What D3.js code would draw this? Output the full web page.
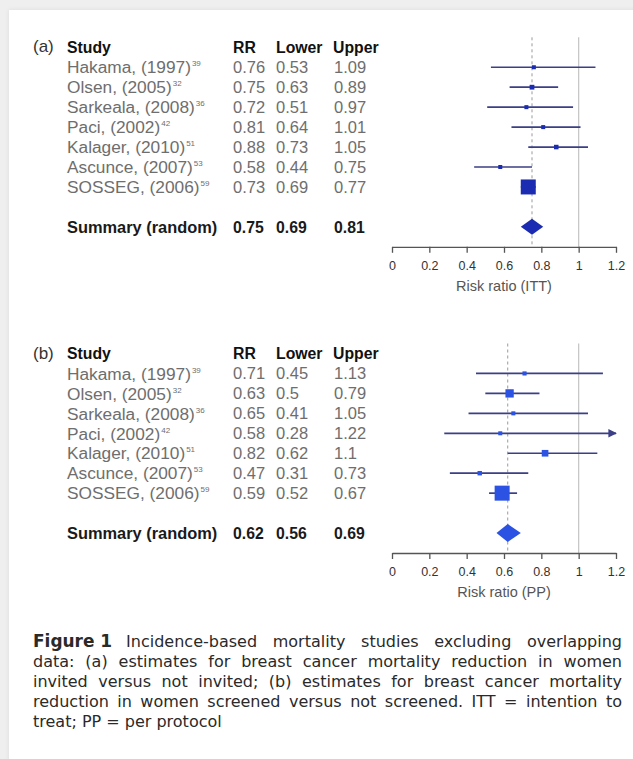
<!DOCTYPE html>
<html>
<head>
<meta charset="utf-8">
<script src="https://cdn.jsdelivr.net/npm/d3@7"></script>
<style>
  html, body { margin: 0; padding: 0; background: #efefef; }
  svg { display: block; }
</style>
</head>
<body>
<svg id="chart" width="633" height="759"></svg>
<script>
// study labels, shared by both panels
const studies = ["Hakama, (1997)", "Olsen, (2005)", "Sarkeala, (2008)", "Paci, (2002)",
                 "Kalager, (2010)", "Ascunce, (2007)", "SOSSEG, (2006)"];
const refs = ["39", "32", "36", "42", "51", "53", "59"];

// (a) intention to treat
const rrA    = [0.76, 0.75, 0.72, 0.81, 0.88, 0.58, 0.73];
const lowerA = [0.53, 0.63, 0.51, 0.64, 0.73, 0.44, 0.69];
const upperA = [1.09, 0.89, 0.97, 1.01, 1.05, 0.75, 0.77];
const summaryA = [0.75, 0.69, 0.81];

// (b) per protocol
const rrB    = [0.71, 0.63, 0.65, 0.58, 0.82, 0.47, 0.59];
const lowerB = [0.45, 0.5, 0.41, 0.28, 0.62, 0.31, 0.52];
const upperB = [1.13, 0.79, 1.05, 1.22, 1.1, 0.73, 0.67];
const summaryB = [0.62, 0.56, 0.69];

const tickValues = [0, 0.2, 0.4, 0.6, 0.8, 1, 1.2];
const tickLabels = ["0", "0.2", "0.4", "0.6", "0.8", "1", "1.2"];

const captionLines = [
  "Incidence-based mortality studies excluding overlapping",
  "data: (a) estimates for breast cancer mortality reduction in women",
  "invited versus not invited; (b) estimates for breast cancer mortality",
  "reduction in women screened versus not screened. ITT = intention to",
  "treat; PP = per protocol"
];

const svg = d3.select("#chart");
const sans = "'Liberation Sans', Arial, sans-serif";

// white page card
svg.append("rect").attr("x", 9).attr("y", 10).attr("width", 640).attr("height", 760)
   .attr("fill", "#fff").style("filter", "drop-shadow(0 0 2px rgba(0,0,0,0.08))");

const x = d3.scaleLinear().domain([0, 1.2]).range([392, 616]);

svg.append("defs").append("marker")
   .attr("id", "arrow").attr("viewBox", "0 0 10 10").attr("refX", 9).attr("refY", 5)
   .attr("markerWidth", 5).attr("markerHeight", 5).attr("orient", "auto")
   .append("path").attr("d", "M0,0L10,5L0,10z").attr("fill", "#3b3f86");

function drawPanel(opt) {
  const g = svg.append("g");
  const y = d3.scaleLinear().domain([-1, 8]).range([opt.top, opt.top + 9 * 19.95]);
  const axisY = y(9);

  const rows = studies.map((s, i) => ({
    name: s, ref: refs[i], rr: opt.rr[i], lo: opt.lower[i], hi: opt.upper[i], i: i
  }));
  // box size from precision (1 / width of log CI)
  rows.forEach(d => d.prec = 1 / (Math.log(d.hi) - Math.log(d.lo)));
  const box = d3.scaleLinear().domain([0, d3.max(rows, d => d.prec)]).range([0, 15]);
  const side = d => Math.max(box(d.prec), 4);

  // table header
  g.append("text").attr("x", 33).attr("y", y(-1)).attr("dy", "0.3em")
   .attr("font-size", 17).attr("fill", "#333").attr("font-family", sans).text(opt.label);
  const head = [["Study", 67], ["RR", 233], ["Lower", 276], ["Upper", 333]];
  g.selectAll(".head").data(head).enter().append("text")
   .attr("x", d => d[1]).attr("y", y(-1)).attr("dy", "0.36em")
   .attr("font-size", 15.8).attr("font-weight", "bold").attr("fill", "#111")
   .attr("font-family", sans).text(d => d[0]);

  // study rows
  const rowText = g.selectAll(".row").data(rows).enter().append("g")
   .attr("font-family", sans).attr("font-size", 16.5).attr("fill", "#6e6e6e");
  const nm = rowText.append("text").attr("x", 67).attr("y", d => y(d.i)).attr("dy", "0.36em")
   .attr("font-size", 17.3);
  nm.append("tspan").text(d => d.name);
  nm.append("tspan").attr("font-size", 8).attr("dy", -7).attr("dx", 1).text(d => d.ref);
  rowText.append("text").attr("x", 233).attr("y", d => y(d.i)).attr("dy", "0.36em").text(d => String(d.rr));
  rowText.append("text").attr("x", 276).attr("y", d => y(d.i)).attr("dy", "0.36em").text(d => String(d.lo));
  rowText.append("text").attr("x", 334).attr("y", d => y(d.i)).attr("dy", "0.36em").text(d => String(d.hi));

  // summary row
  const sumVals = [["Summary (random)", 67], [String(opt.summary[0]), 233],
                   [String(opt.summary[1]), 276], [String(opt.summary[2]), 334]];
  g.selectAll(".sum").data(sumVals).enter().append("text")
   .attr("x", d => d[1]).attr("y", y(8)).attr("dy", "0.36em")
   .attr("font-size", d => d[1] === 67 ? 16.4 : 15.8).attr("font-weight", "bold").attr("fill", "#1a1a1a")
   .attr("font-family", sans).text(d => d[0]);

  // reference lines
  g.append("line").attr("x1", x(1)).attr("x2", x(1)).attr("y1", y(-1.5)).attr("y2", axisY)
   .attr("stroke", "#c4c4c4").attr("stroke-width", 1.2);
  g.append("line").attr("x1", x(opt.summary[0])).attr("x2", x(opt.summary[0]))
   .attr("y1", y(-1.5)).attr("y2", axisY)
   .attr("stroke", "#9a9a9a").attr("stroke-width", 1).attr("stroke-dasharray", "3,3");

  // confidence intervals
  g.selectAll(".ci").data(rows).enter().append("line")
   .attr("x1", d => x(d.lo)).attr("x2", d => x(Math.min(d.hi, 1.2)))
   .attr("y1", d => y(d.i)).attr("y2", d => y(d.i))
   .attr("stroke", "#3b3f86").attr("stroke-width", 1.7)
   .attr("marker-end", d => d.hi > 1.2 ? "url(#arrow)" : null);

  // point estimate boxes
  g.selectAll(".box").data(rows).enter().append("rect")
   .attr("x", d => x(d.rr) - side(d) / 2)
   .attr("y", d => y(d.i) - side(d) / 2)
   .attr("width", side).attr("height", side)
   .attr("fill", opt.boxColor);

  // summary diamond
  const s = opt.summary, dy = y(8), h = opt.diamondH / 2;
  g.append("path")
   .attr("d", `M${x(s[1])},${dy}L${x(s[0])},${dy - h}L${x(s[2])},${dy}L${x(s[0])},${dy + h}Z`)
   .attr("fill", opt.boxColor);

  // axis
  const ax = g.append("g").attr("transform", `translate(0,${axisY})`)
   .call(d3.axisBottom(x).tickValues(tickValues)
          .tickFormat((d, i) => tickLabels[i]).tickSize(6).tickSizeOuter(0).tickPadding(8));
  ax.select(".domain").attr("stroke", "#555").attr("stroke-width", 1.3);
  ax.selectAll(".tick line").attr("stroke", "#555").attr("stroke-width", 1.3);
  ax.selectAll(".tick text").attr("font-size", 12.5).attr("font-family", sans)
    .attr("fill", "#333");

  g.append("text").attr("x", x(0.6)).attr("y", axisY + 39).attr("dy", "0.35em")
   .attr("text-anchor", "middle").attr("font-size", 14.5).attr("font-family", sans)
   .attr("fill", "#555").text(opt.title);
}

drawPanel({label: "(a)", top: 47.3, rr: rrA, lower: lowerA, upper: upperA, summary: summaryA,
           boxColor: "#1c2cb2", diamondH: 16, title: "Risk ratio (ITT)"});
drawPanel({label: "(b)", top: 353.5, rr: rrB, lower: lowerB, upper: upperB, summary: summaryB,
           boxColor: "#2b52e2", diamondH: 18, title: "Risk ratio (PP)"});

// caption, justified line by line
const left = 33, right = 622;
const cap = svg.append("g").attr("font-family", "'DejaVu Sans', sans-serif")
   .attr("font-size", 15).attr("fill", "#2a2a2a");
// pick a font size so the widest full line nearly fills the column
const probe = cap.append("text");
const widest = d3.max(captionLines.slice(1, 4), l => probe.text(l).node().getComputedTextLength());
probe.remove();
const fs = Math.min(16, 15 * (right - left - 6) / widest);
cap.attr("font-size", fs);

captionLines.forEach((line, i) => {
  const t = cap.append("text").attr("x", left).attr("y", 647 + i * 20);
  let body;
  if (i === 0) {
    t.append("tspan").attr("font-weight", "bold").attr("font-size", fs * 1.06).text("Figure 1");
    body = t.append("tspan").attr("dx", 14).text(line);
  } else {
    body = t.text(line);
  }
  if (i < captionLines.length - 1) {
    const w = t.node().getBBox().width;
    const gaps = (line.match(/ /g) || []).length;
    body.style("word-spacing", ((right - left - w) / gaps) + "px");
  }
});
</script>
</body>
</html>
